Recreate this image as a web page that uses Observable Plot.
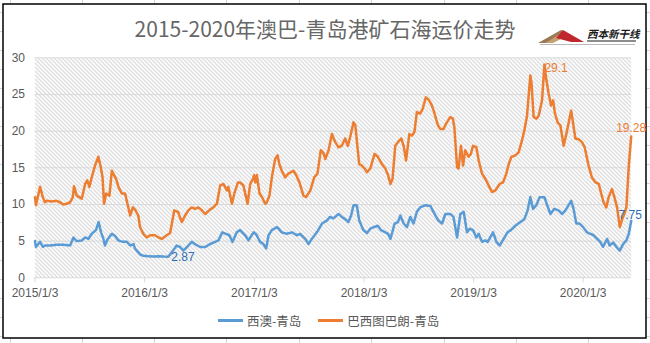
<!DOCTYPE html>
<html>
<head>
<meta charset="utf-8">
<script src="https://cdn.jsdelivr.net/npm/d3@7"></script>
<script src="https://cdn.jsdelivr.net/npm/@observablehq/plot@0.6"></script>
<style>
  html, body { margin: 0; padding: 0; background: #fff; }
  #wrap { position: relative; width: 650px; height: 343px; overflow: hidden; background: #fff; }
  #bg, #chart, #logo { position: absolute; left: 0; top: 0; }
  #title { position: absolute; left: 0; top: 14px; width: 650px; text-align: center;
    font-family: "Noto Sans CJK SC", sans-serif; font-size: 21px; line-height: 28px; color: #666666; }
  #legend { position: absolute; left: 218px; top: 311px; height: 18px; display: flex; align-items: center; gap: 17px;
    font-family: "Noto Sans CJK SC", sans-serif; font-size: 12.5px; color: #595959; }
  #legend .item { display: flex; align-items: center; }
  #legend .swatch { width: 25px; height: 3px; margin-right: 4px; }
</style>
</head>
<body>
<div id="wrap">
  <svg id="bg" width="650" height="343"></svg>
  <div id="title"></div>
  <svg id="logo" width="650" height="343"></svg>
  <div id="chart"></div>
  <div id="legend"></div>
</div>
<script>
// ---------- data ----------
const titleText = "2015-2020年澳巴-青岛港矿石海运价走势";
const seriesNames = ["西澳-青岛", "巴西图巴朗-青岛"];
const seriesColors = ["#5B9BD5", "#ED7D31"];
const startDate = "2015-01-03";
const tickLabels = ["2015/1/3", "2016/1/3", "2017/1/3", "2018/1/3", "2019/1/3", "2020/1/3"];
const yTicks = [0, 5, 10, 15, 20, 25, 30];

// 西澳-青岛 (days since 2015-01-03, USD/t)
const blueDays = [
  0,3,17,26,33,50,72,94,117,128,139,156,167,178,189,203,212,220,228,233,241,256,267,278,292,306,317,328,
  333,350,361,378,394,411,428,444,456,472,483,494,511,522,533,550,567,583,600,611,624,636,647,658,672,
  683,700,711,728,737,750,761,770,778,789,806,811,822,839,856,872,883,900,911,922,939,956,972,983,994,1011,1022,
  1033,1044,1053,1061,1072,1080,1094,1106,1117,1128,1142,1153,1167,1176,1184,1198,1209,1217,1228,1239,1250,1261,1272,1283,1300,1317,1331,1344,1356,1367,
  1383,1394,1406,1417,1428,1439,1448,1459,1470,1478,1489,1500,1508,1526,1537,1548,1561,1574,1585,1600,1617,1630,1641,1650,1659,1670,1681,
  1697,1706,1717,1730,1744,1756,1767,1786,1794,1803,1814,1826,1839,1850,1861,1883,1892,1906,1914,1926,1937,1948,1959,1970,1978,1986
];
const blueValues = [
  5.0,4.2,4.9,4.2,4.4,4.4,4.5,4.5,4.4,5.5,5.0,5.1,5.5,5.3,6.0,6.5,7.6,6.2,5.3,4.4,5.2,6.0,5.7,5.1,4.9,4.9,4.4,4.6,
  4.0,3.2,3.0,2.95,2.9,2.95,2.9,2.87,3.5,4.4,4.2,3.7,4.4,4.9,4.6,4.2,4.2,4.6,4.9,5.1,6.2,6.0,5.8,4.9,6.2,
  6.5,5.8,5.1,6.2,5.9,4.9,4.6,4.0,5.8,6.5,6.9,6.7,6.2,6.0,6.2,5.8,6.0,5.3,4.6,5.3,6.2,7.4,7.8,8.3,8.1,8.7,8.3,
  8.0,7.6,8.5,9.9,9.9,7.8,6.5,6.1,6.7,6.9,7.1,6.5,6.2,6.0,5.3,7.4,7.6,8.5,7.4,6.9,8.3,7.4,9.0,9.6,9.9,9.8,8.7,7.8,7.4,8.7,
  8.7,8.3,5.5,8.7,9.0,6.2,6.7,6.5,5.5,6.0,4.9,5.1,4.9,6.2,4.9,4.4,5.3,6.2,6.5,7.1,7.6,8.0,9.2,11.0,9.4,9.9,11.0,
  11.0,9.9,8.7,9.4,9.2,8.7,9.2,10.5,9.4,7.4,7.4,6.9,6.2,6.0,5.8,4.9,4.2,5.3,4.4,4.8,4.2,3.7,4.6,5.1,6.0,7.75
];

// 巴西图巴朗-青岛 (days since 2015-01-03, USD/t)
const orangeDays = [
  0,3,17,26,33,39,56,72,83,94,106,117,126,130,139,156,167,174,181,189,200,211,219,225,230,237,248,256,261,270,278,289,300,308,317,326,
  333,344,350,361,372,383,400,411,422,439,450,464,476,489,500,511,522,533,544,556,567,583,594,606,617,628,639,644,656,664,676,
  683,694,703,708,717,726,730,734,739,748,756,767,772,781,789,800,808,814,822,833,844,861,870,881,894,903,917,930,941,952,961,967,978,989,1000,1011,1022,
  1033,1042,1050,1061,1067,1072,1080,1089,1098,1106,1117,1131,1142,1156,1167,1176,1184,1191,1200,1209,1220,1228,1236,1247,1256,1264,1272,1283,1291,1302,1311,1320,1328,1342,1350,1361,1369,
  1383,1392,1397,1406,1411,1419,1426,1433,1444,1452,1459,1470,1478,1489,1500,1511,1522,1533,1548,1559,1570,1578,1587,1600,1611,1622,1630,1639,1650,1654,1661,1670,1678,
  1689,1697,1703,1711,1719,1726,1732,1741,1750,1761,1772,1786,1792,1800,1811,1822,1831,1844,1855,1867,1878,1886,1894,1903,1911,1922,1930,1939,1948,1956,1963,1970,1978,1986
];
const orangeValues = [
  11.0,9.9,12.4,11.0,10.3,10.5,10.4,10.5,10.3,10.0,10.1,10.3,11.0,12.5,11.2,10.8,12.8,13.3,12.4,13.7,15.3,16.5,15.1,13.7,10.1,11.5,11.2,14.6,14.2,13.5,12.4,11.5,11.5,10.1,8.5,9.6,
  9.3,8.5,6.9,6.0,5.5,5.8,5.8,5.5,5.3,5.8,6.1,9.2,9.0,7.6,8.5,9.2,9.6,9.4,9.6,9.2,8.7,9.3,9.6,10.1,12.6,12.8,11.9,12.4,10.1,11.5,13.0,
  13.0,12.6,11.0,10.1,12.8,13.5,14.0,13.0,14.0,11.5,11.0,10.1,10.3,11.2,13.7,16.2,16.7,15.5,14.6,13.7,14.2,14.6,14.0,13.0,11.2,11.0,11.9,13.7,14.2,17.4,17.0,16.2,17.4,19.6,18.5,17.8,18.0,
  19.0,18.0,19.2,21.2,20.8,18.7,15.5,15.3,14.9,14.4,14.9,16.9,16.5,15.5,14.9,14.0,12.8,13.5,18.0,18.5,19.0,18.0,16.0,19.6,19.4,19.9,22.6,22.4,23.0,24.6,24.3,23.7,22.8,20.8,20.3,20.3,21.0,
  21.9,21.7,20.5,15.1,14.9,18.0,15.3,17.4,16.5,16.9,18.0,17.8,16.0,14.2,13.5,12.6,11.7,11.9,12.8,13.0,14.2,15.5,16.5,16.7,17.1,18.7,20.1,22.1,27.6,26.5,21.9,21.7,22.1,
  24.2,29.1,27.1,25.1,23.5,24.2,22.4,21.2,20.8,18.0,20.0,22.8,21.2,19.0,18.9,18.5,17.8,15.3,13.7,13.0,12.8,11.5,10.3,9.6,11.0,12.1,11.0,9.6,6.9,8.0,8.7,9.6,15.3,19.28
];

// ---------- build ----------
const start = new Date(startDate + "T00:00:00Z");
const toDate = d => new Date(start.getTime() + d * 864e5);
const blue = blueDays.map((d, i) => ({date: toDate(d), value: blueValues[i]}));
const orange = orangeDays.map((d, i) => ({date: toDate(d), value: orangeValues[i]}));
const tickDates = tickLabels.map(s => { const [y, m, d] = s.split("/").map(Number); return new Date(Date.UTC(y, m - 1, d)); });
const lastDate = d3.max([...blue, ...orange], d => d.date);

const peak = d3.greatest(orange, d => d.value);
const trough = d3.least(blue, d => d.value);
const endOrange = orange[orange.length - 1];
const endBlue = blue[blue.length - 1];

const fmtTick = d => tickLabels[tickDates.findIndex(t => +t === +d)];

const chart = Plot.plot({
  width: 650,
  height: 343,
  marginLeft: 34.5,
  marginRight: 19.3,
  marginTop: 57.3,
  marginBottom: 65.7,
  style: {background: "transparent", overflow: "visible", fontFamily: "'Liberation Sans', Arial, sans-serif", fontSize: "12px", color: "#595959"},
  x: {type: "utc", domain: [start, lastDate]},
  y: {domain: [0, 30]},
  marks: [
    Plot.frame({fill: "url(#hatch)", stroke: "none"}),
    Plot.ruleY(yTicks.filter(v => v > 0), {stroke: "#d9d9d9", strokeWidth: 1}),
    Plot.ruleY([0], {stroke: "#d9d9d9", strokeWidth: 1}),
    Plot.axisY({ticks: yTicks, tickSize: 0, tickPadding: 10, fill: "#595959", label: null, fontSize: 12}),
    Plot.axisX({ticks: tickDates, tickFormat: fmtTick, tickSize: 5, tickPadding: 6, stroke: "#d9d9d9", fill: "#595959", label: null, fontSize: 12}),
    Plot.line(blue, {x: "date", y: "value", stroke: seriesColors[0], strokeWidth: 2.5}),
    Plot.line(orange, {x: "date", y: "value", stroke: seriesColors[1], strokeWidth: 2.5}),
    Plot.text([peak], {x: "date", y: "value", text: d => String(d.value), fill: seriesColors[1], textAnchor: "start", dx: 0, dy: 4, fontSize: 12}),
    Plot.text([endOrange], {x: "date", y: "value", text: d => String(d.value), fill: seriesColors[1], textAnchor: "middle", dx: 0, dy: -8, fontSize: 12}),
    Plot.text([endBlue], {x: "date", y: "value", text: d => String(d.value), fill: "#2E6DB4", textAnchor: "middle", dx: -1, dy: -5.5, fontSize: 12}),
    Plot.text([trough], {x: "date", y: "value", text: d => String(d.value), fill: "#2E6DB4", textAnchor: "start", dx: 3, dy: 0, fontSize: 12})
  ]
});

const pat = d3.select(chart).insert("defs", ":first-child")
  .append("pattern").attr("id", "hatch").attr("width", 4).attr("height", 4).attr("patternUnits", "userSpaceOnUse");
pat.append("rect").attr("width", 4).attr("height", 4).attr("fill", "#ffffff");
pat.append("path").attr("d", "M-1,-1L5,5M-1,3L1,5M3,-1L5,1").attr("stroke", "#bdbdbd").attr("stroke-width", 1);

document.getElementById("chart").appendChild(chart);

// background spreadsheet grid + chart area border
const bg = d3.select("#bg");
[10, 82, 154, 226, 299, 371, 444, 516, 588].forEach(x =>
  bg.append("line").attr("x1", x + 0.5).attr("x2", x + 0.5).attr("y1", 0).attr("y2", 343).attr("stroke", "#d4d4d4"));
d3.range(11.5, 343, 19.1).forEach(y =>
  bg.append("line").attr("x1", 0).attr("x2", 650).attr("y1", Math.round(y) + 0.5).attr("y2", Math.round(y) + 0.5).attr("stroke", "#d4d4d4"));
bg.append("rect").attr("x", 3).attr("y", 4).attr("width", 643).attr("height", 334)
  .attr("fill", "#fff").attr("stroke", "#000").attr("stroke-width", 1.5);

// title
document.getElementById("title").textContent = titleText;

// logo
const logo = d3.select("#logo");
logo.append("polygon").attr("points", "538,43 561,30 566,32 546,43").attr("fill", "#9a7a55");
logo.append("polygon").attr("points", "546,43 561,33 567,36 553,43").attr("fill", "#c7a070");
logo.append("polygon").attr("points", "556,38 563,30 584,42 571,42").attr("fill", "#c0282d");
logo.append("line").attr("x1", 540).attr("x2", 635).attr("y1", 44.5).attr("y2", 44.5).attr("stroke", "#b9b9b9").attr("stroke-width", 1);
logo.append("text").attr("x", 587).attr("y", 38).attr("font-family", "'Noto Sans CJK SC', sans-serif")
  .attr("font-size", 10.5).attr("font-weight", 700).attr("font-style", "italic").attr("fill", "#1a1a1a").text("西本新干线");
logo.append("line").attr("x1", 587).attr("x2", 636).attr("y1", 41).attr("y2", 41).attr("stroke", "#1a1a1a").attr("stroke-width", 1);

// legend
const legend = d3.select("#legend");
seriesNames.forEach((name, i) => {
  const item = legend.append("div").attr("class", "item");
  item.append("div").attr("class", "swatch").style("background", seriesColors[i]);
  item.append("span").text(name);
});
</script>
</body>
</html>
